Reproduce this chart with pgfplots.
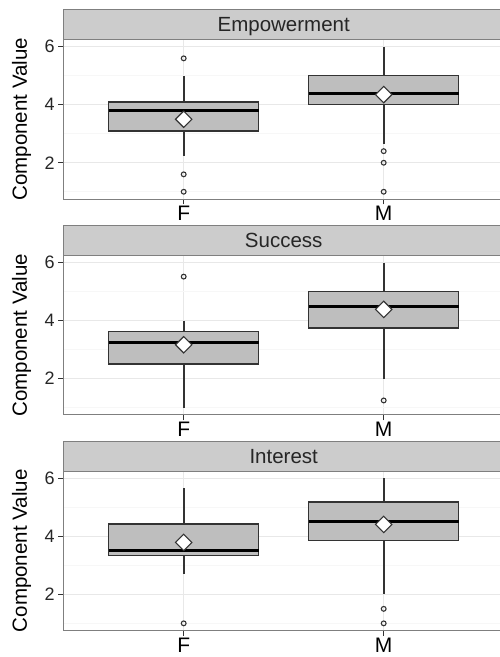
\documentclass[border=0pt]{standalone}
\usepackage{pgfplots}
\pgfplotsset{compat=1.18}
\usepgfplotslibrary{statistics}
\usepackage{fontspec}
\setmainfont{Liberation Sans}
\definecolor{gA}{HTML}{333333}
\definecolor{gB}{HTML}{7F7F7F}
\definecolor{stripc}{HTML}{CCCCCC}
\definecolor{boxc}{HTML}{BEBEBE}
\definecolor{gridmaj}{HTML}{E8E8E8}
\definecolor{gridmin}{HTML}{F7F7F7}
\pgfplotsset{
  panel/.style={
    scale only axis, width=440pt, height=159.5pt,
    anchor=south west,
    xmin=0.4, xmax=2.6, ymin=0.75, ymax=6.25,
    xtick={1,2}, xticklabels={F,M},
    ytick={2,4,6}, minor ytick={1,3,5},
    tick pos=left,
    grid=both,
    major grid style={draw=gridmaj, line width=0.8pt},
    minor grid style={draw=gridmin, line width=0.8pt},
    axis line style={draw=gB, line width=0.9pt},
    tick align=outside,
    major tick length=5.5pt, minor tick length=0pt,
    major tick style={draw=gA, line width=1.1pt},
    /pgf/number format/assume math mode=true,
    yticklabel style={font=\fontsize{18}{20}\selectfont, text=black!85},
    xticklabel style={font=\fontsize{21}{24}\selectfont, text=black, yshift=2pt},
    ylabel={Component Value},
    ylabel style={font=\fontsize{20.5}{24}\selectfont, at={(axis description cs:-0.0955,0.5)}, anchor=center},
    boxplot/draw direction=y,
    boxplot/box extend=0.75,
    boxplot/whisker extend=0,
    boxplot/every box/.style={fill=boxc, draw=gA, line width=1.4pt},
    boxplot/every whisker/.style={draw=gA, line width=1.6pt},
    boxplot/every median/.style={draw=black, line width=2.8pt},
  },
  outl/.style={mark=o, mark size=2.4pt, mark options={draw=gA, line width=1.1pt, fill=white}},
  meanmark/.style={only marks, mark=square*, mark size=5.8pt, mark options={rotate=45, fill=white, draw=gA, line width=1.1pt}},
}
\newcommand{\strip}[2]{%
  \draw[fill=stripc, draw=gB, line width=0.9pt] (63.7pt,{(#1+159.5)*1pt}) rectangle (506pt,{(#1+189.5)*1pt});
  \node[anchor=base, font=\fontsize{20.5}{24}\selectfont, text=black!85] at (283.7pt,{(#1+167.5)*1pt}) {#2};
}
\begin{document}
\begin{tikzpicture}
% ---------- Empowerment ----------
\begin{axis}[panel, at={(63.7pt,458pt)}]
\addplot[boxplot prepared={lower whisker=2.23, lower quartile=3.1, median=3.8, upper quartile=4.1, upper whisker=5.0, draw position=1}, outl]
  coordinates {(1,5.6) (1,1.6) (1,1.0)};
\addplot[boxplot prepared={lower whisker=2.66, lower quartile=4.0, median=4.4, upper quartile=5.0, upper whisker=6.0, draw position=2}, outl]
  coordinates {(2,2.4) (2,2.0) (2,1.0)};
\addplot[meanmark] coordinates {(1,3.50) (2,4.35)};
\end{axis}
\strip{458}{Empowerment}
% ---------- Success ----------
\begin{axis}[panel, at={(63.7pt,242.05pt)}]
\addplot[boxplot prepared={lower whisker=1.0, lower quartile=2.51, median=3.26, upper quartile=3.62, upper whisker=4.0, draw position=1}, outl]
  coordinates {(1,5.52)};
\addplot[boxplot prepared={lower whisker=2.0, lower quartile=3.75, median=4.5, upper quartile=5.0, upper whisker=6.0, draw position=2}, outl]
  coordinates {(2,1.25)};
\addplot[meanmark] coordinates {(1,3.17) (2,4.39)};
\end{axis}
\strip{242.05}{Success}
% ---------- Interest ----------
\begin{axis}[panel, at={(63.7pt,26.4pt)}]
\addplot[boxplot prepared={lower whisker=2.70, lower quartile=3.34, median=3.52, upper quartile=4.43, upper whisker=5.66, draw position=1}, outl]
  coordinates {(1,1.0)};
\addplot[boxplot prepared={lower whisker=2.0, lower quartile=3.86, median=4.52, upper quartile=5.18, upper whisker=6.0, draw position=2}, outl]
  coordinates {(2,1.5) (2,1.0)};
\addplot[meanmark] coordinates {(1,3.79) (2,4.41)};
\end{axis}
\strip{26.4}{Interest}
\pgfresetboundingbox
\path (0pt,0pt) rectangle (500pt,657pt);
\end{tikzpicture}
\end{document}
